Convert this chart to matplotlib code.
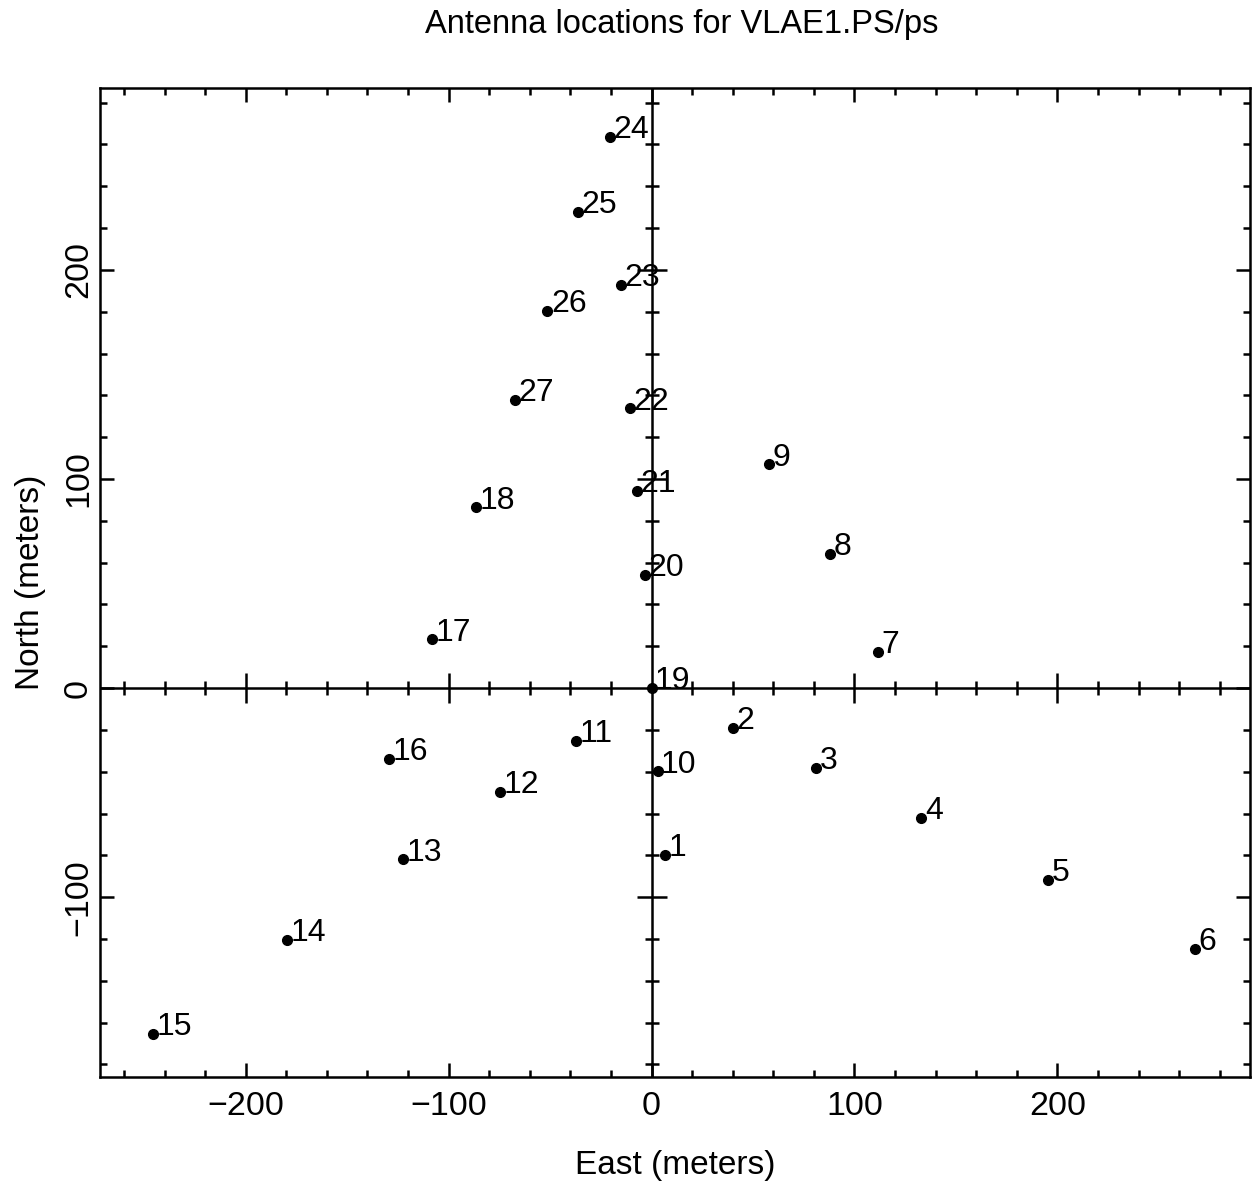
#!/usr/bin/env python3
"""Antenna locations plot (PGPLOT-style) for VLAE1.PS/ps."""

import matplotlib
matplotlib.use("Agg")
import matplotlib.pyplot as plt
import numpy as np
from matplotlib.ticker import MultipleLocator

# ── Data ─────────────────────────────────────────────────────────────────────

ANTENNA_IDS = [str(i) for i in range(1, 28)]
EAST = [6.5, 40.2, 81.0, 133.0, 195.5, 268.0, 111.5, 88.0, 58.0, 3.0,
        -37.0, -74.6, -122.4, -179.5, -245.7, -129.3, -108.1, -86.4, 0.0,
        -3.4, -7.2, -10.8, -15.2, -20.7, -36.3, -51.3, -67.2]
NORTH = [-79.8, -19.0, -38.2, -62.0, -91.8, -124.8, 17.5, 64.3, 107.0, -39.8,
         -25.2, -49.7, -81.8, -120.3, -165.4, -33.8, 23.4, 86.5, 0.0,
         54.1, 94.4, 133.8, 192.8, 263.8, 227.9, 180.5, 137.9]

TITLE = "Antenna locations for VLAE1.PS/ps"
XLABEL = "East (meters)"
YLABEL = "North (meters)"

XLIM = (-272, 295)
YLIM = (-186, 287)
MAJOR = 100
MINOR = 20

plt.rcParams["font.family"] = ["Liberation Sans", "DejaVu Sans"]


def draw_cross_axis(ax, lw):
    """Axis lines through the origin, with ticks crossing them."""
    ax.axhline(0, color="black", lw=lw, zorder=2)
    ax.axvline(0, color="black", lw=lw, zorder=2)

    def ticks(lo, hi, step):
        t = np.arange(np.ceil(lo / step) * step, hi + 1e-9, step)
        return t[t != 0]

    xmin = ticks(*XLIM, MINOR)
    xmaj = ticks(*XLIM, MAJOR)
    ymin = ticks(*YLIM, MINOR)
    ymaj = ticks(*YLIM, MAJOR)
    xmin = xmin[~np.isin(xmin, xmaj)]
    ymin = ymin[~np.isin(ymin, ymaj)]

    kw = dict(ls="none", color="black", markeredgewidth=lw, zorder=2)
    ax.plot(xmin, np.zeros_like(xmin), marker="|", ms=10, **kw)
    ax.plot(xmaj, np.zeros_like(xmaj), marker="|", ms=21, **kw)
    ax.plot(np.zeros_like(ymin), ymin, marker="_", ms=10, **kw)
    ax.plot(np.zeros_like(ymaj), ymaj, marker="_", ms=21, **kw)


def main():
    fig = plt.figure(figsize=(12.55, 11.83), dpi=100)
    ax = fig.add_axes([0.0794, 0.0896, 0.9167, 0.836])

    lw = 1.8
    for s in ax.spines.values():
        s.set_linewidth(lw)

    ax.set_xlim(*XLIM)
    ax.set_ylim(*YLIM)
    ax.xaxis.set_major_locator(MultipleLocator(MAJOR))
    ax.xaxis.set_minor_locator(MultipleLocator(MINOR))
    ax.yaxis.set_major_locator(MultipleLocator(MAJOR))
    ax.yaxis.set_minor_locator(MultipleLocator(MINOR))

    ax.tick_params(which="both", direction="in", top=True, right=True,
                   width=lw, colors="black")
    ax.tick_params(which="major", length=10)
    ax.tick_params(which="minor", length=5)
    ax.tick_params(axis="x", which="major", labelsize=24.5, pad=10)
    ax.tick_params(axis="y", which="major", labelsize=24.5, pad=4, labelrotation=90)
    for lab in ax.get_yticklabels():
        lab.set_verticalalignment("center")

    draw_cross_axis(ax, lw)

    ax.plot(EAST, NORTH, "o", color="black", ms=7, zorder=3)
    for name, e, n in zip(ANTENNA_IDS, EAST, NORTH):
        ax.annotate(name, (e, n), xytext=(2.5, -1), textcoords="offset points",
                    ha="left", va="baseline", fontsize=23, zorder=4)

    ax.set_xlabel(XLABEL, fontsize=24, labelpad=20)
    ax.set_ylabel(YLABEL, fontsize=24, labelpad=12)
    fig.text(0.543, 0.979, TITLE, ha="center", va="center", fontsize=23.5)

    fig.savefig("out.png", dpi=100)
    plt.close(fig)


if __name__ == "__main__":
    main()
